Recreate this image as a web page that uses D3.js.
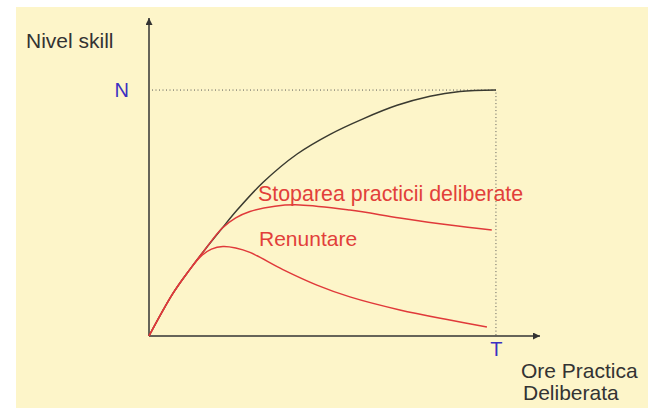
<!DOCTYPE html>
<html>
<head>
<meta charset="utf-8">
<script src="https://cdn.jsdelivr.net/npm/d3@7"></script>
<style>
  body { margin: 0; background: #fff; }
  svg text { font-family: "Liberation Sans", Arial, sans-serif; }
</style>
</head>
<body>
<div id="chart"></div>
<script>
// curves (x: ore practica, 0..100 = T; y: nivel skill, 0..100 = N)
const expertHours = [0, 6.9, 11.8, 16.1, 21.0, 25.4, 32.9, 42.7, 52.2, 61.7, 71.5, 81.0, 89.6, 100];
const expertSkill = [0, 17.3, 27.1, 35.1, 43.7, 51.2, 62.5, 74.0, 82.0, 88.3, 93.8, 97.5, 99.4, 100];

const stopHours = [0, 6.9, 11.8, 16.1, 21.0, 25.0, 29.1, 36.3, 43.5, 57.9, 72.3, 86.7, 98.8];
const stopSkill = [0, 17.3, 27.1, 35.1, 43.7, 48.0, 50.6, 52.8, 53.3, 51.2, 48.0, 45.1, 43.1];

const quitHours = [0, 6.9, 11.8, 15.0, 18.0, 21.3, 25.0, 29.1, 38.6, 48.4, 57.9, 72.3, 86.7, 97.4];
const quitSkill = [0, 17.3, 27.1, 32.5, 35.3, 36.4, 35.8, 34.0, 27.0, 20.7, 15.9, 10.6, 6.5, 3.7];

const levelN = 100, timeT = 100;
const curveLabels = ['Stoparea practicii deliberate', 'Renuntare'];

const width = 655, height = 408;
const svg = d3.select('#chart').append('svg')
    .attr('width', width)
    .attr('height', height);

svg.append('rect')
    .attr('x', 16).attr('y', 7)
    .attr('width', 632).attr('height', 401)
    .attr('fill', '#fdf5c9');

const x = d3.scaleLinear().domain([0, 112.7]).range([149, 540]);
const y = d3.scaleLinear().domain([0, 129.3]).range([336, 18]);

// arrow head
svg.append('defs').append('marker')
    .attr('id', 'arrow')
    .attr('viewBox', '0 0 10 10')
    .attr('refX', 10).attr('refY', 5)
    .attr('markerWidth', 10).attr('markerHeight', 7)
    .attr('markerUnits', 'userSpaceOnUse')
    .attr('orient', 'auto')
    .append('path')
    .attr('d', 'M0,0 L10,5 L0,10 Z')
    .attr('fill', '#333');

// guide lines to N and T
svg.append('path')
    .attr('d', `M${x(0) + 3},${y(levelN)} H${x(timeT)} V${y(0)}`)
    .attr('fill', 'none')
    .attr('stroke', '#555')
    .attr('stroke-width', 1)
    .attr('stroke-dasharray', '1,2.5');

// axes
svg.append('line')
    .attr('x1', x(0)).attr('y1', y(0))
    .attr('x2', x(0)).attr('y2', y.range()[1])
    .attr('stroke', '#333').attr('stroke-width', 1.5)
    .attr('marker-end', 'url(#arrow)');
svg.append('line')
    .attr('x1', x(0)).attr('y1', y(0))
    .attr('x2', x.range()[1]).attr('y2', y(0))
    .attr('stroke', '#333').attr('stroke-width', 1.5)
    .attr('marker-end', 'url(#arrow)');

const yAxis = svg.append('g')
    .attr('transform', `translate(${x(0)},0)`)
    .call(d3.axisLeft(y).tickValues([levelN]).tickFormat(() => 'N').tickSize(0).tickPadding(20));
const xAxis = svg.append('g')
    .attr('transform', `translate(0,${y(0)})`)
    .call(d3.axisBottom(x).tickValues([timeT]).tickFormat(() => 'T').tickSize(0).tickPadding(6));
[yAxis, xAxis].forEach(g => {
    g.select('.domain').remove();
    g.selectAll('text')
        .attr('font-family', '"Liberation Sans", Arial, sans-serif')
        .attr('font-size', 20)
        .attr('fill', '#3b2fc2');
});

// curves
const line = d3.line()
    .x(d => x(d[0]))
    .y(d => y(d[1]))
    .curve(d3.curveCatmullRom.alpha(0.5));

const zip = (a, b) => a.map((v, i) => [v, b[i]]);

svg.append('path')
    .attr('d', line(zip(expertHours, expertSkill)))
    .attr('fill', 'none')
    .attr('stroke', '#3a3a30')
    .attr('stroke-width', 1.5);

[zip(stopHours, stopSkill), zip(quitHours, quitSkill)].forEach(pts => {
    svg.append('path')
        .attr('d', line(pts))
        .attr('fill', 'none')
        .attr('stroke', '#e0393a')
        .attr('stroke-width', 1.5);
});

// labels
const txt = (s, px, py, color, fs) => svg.append('text')
    .attr('x', px).attr('y', py)
    .attr('font-size', fs || 21)
    .attr('fill', color)
    .text(s);

txt('Nivel skill', 26, 48, '#333');
txt(curveLabels[0], 258, 201, '#e23f3a', 21.4);
txt(curveLabels[1], 259, 246, '#e23f3a');
txt('Ore Practica', 521, 378, '#333');
txt('Deliberata', 523, 400, '#333');
</script>
</body>
</html>
